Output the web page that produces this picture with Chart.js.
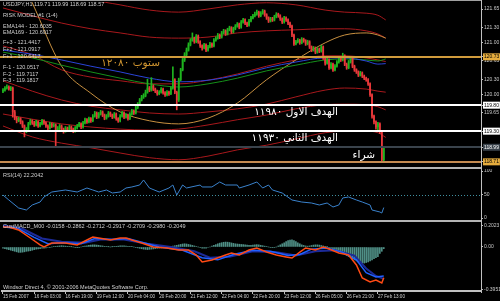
<!DOCTYPE html>
<html>
<head>
<meta charset="utf-8">
<script src="https://cdn.jsdelivr.net/npm/chart.js@4.4.1/dist/chart.umd.min.js"></script>
<style>
  html, body { margin: 0; padding: 0; background: #000; }
  #wrap { position: relative; width: 500px; height: 301px; overflow: hidden; background: #000; }
  canvas { position: absolute; left: 0; }
  .rule { position: absolute; left: 0; width: 481px; height: 2px; background: #b4b4b4; }
  .small { position: absolute; left: 3px; font: 5.5px 'Liberation Sans', Arial, sans-serif; color: #d0d0d0; white-space: nowrap; line-height: 1; }
  .ar { position: absolute; font: 10.5px 'DejaVu Sans', sans-serif; direction: rtl; white-space: nowrap; line-height: 11px; }
</style>
</head>
<body>
<div id="wrap">
  <canvas id="price" width="500" height="166" style="top:0"></canvas>
  <canvas id="rsi" width="500" height="50" style="top:169px"></canvas>
  <canvas id="macd" width="500" height="78" style="top:222px"></canvas>

  <div style="position:absolute;left:0;top:0;width:481px;height:1px;background:#a0a0a0"></div>
  <div style="position:absolute;left:481px;top:0;width:1px;height:293px;background:#c0c0c0"></div>
  <div class="rule" style="top:167px"></div>
  <div class="rule" style="top:220px"></div>

  <div class="small" style="top:2px">USDJPY,H1 119.71 119.99 118.69 118.57</div>
  <div class="small" style="top:13px">RISK MODEL #1 (1-4)</div>
  <div class="small" style="top:24px">EMA144 - 120.6035</div>
  <div class="small" style="top:30px">EMA169 - 120.6917</div>
  <div class="small" style="top:40px">F+3 - 121.4417</div>
  <div class="small" style="top:47px">F+2 - 121.0917</div>
  <div class="small" style="top:54px">F+1 - 120.6417</div>
  <div class="small" style="top:65px">F-1 - 120.0517</div>
  <div class="small" style="top:72px">F-2 - 119.7117</div>
  <div class="small" style="top:78px">F-3 - 119.1817</div>
  <div class="small" style="top:173px">RSI(14) 22.2042</div>
  <div class="small" style="top:224px">CustMACD_M00 -0.0158 -0.2862 -0.2712 -0.2917 -0.2709 -0.2980 -0.2049</div>
  <div class="small" style="top:285px">Windsor Direct 4, © 2001-2006 MetaQuotes Software Corp.</div>

  <div class="ar" style="right:340px;top:57px;color:#d09530">ستوب ١٢٠٨٠</div>
  <div class="ar" style="right:162px;top:106px;color:#fff">الهدف الاول ١١٩٨٠</div>
  <div class="ar" style="right:162px;top:132px;color:#fff">الهدف الثاني ١١٩٣٠</div>
  <div class="ar" style="right:125px;top:149px;color:#fff">شراء</div>
</div>

<script>
// USDJPY H1, bar index 0 = 15 Feb 2007
const xTickIdx = [0, 16, 32, 48, 64, 80, 96, 112, 128, 144, 160, 176, 192];
const xTickLabels = ['15 Feb 2007', '16 Feb 03:00', '16 Feb 19:00', '19 Feb 12:00', '20 Feb 04:00',
  '20 Feb 20:00', '21 Feb 12:00', '22 Feb 04:00', '22 Feb 20:00', '23 Feb 12:00',
  '26 Feb 05:00', '26 Feb 21:00', '27 Feb 13:00'];

const barOpen = [
  120.07,120.09,120.13,120.15,120.11,120.13,119.67,119.55,119.50,119.54,
  119.48,119.40,119.30,119.34,119.44,119.50,119.46,119.42,119.48,119.40,
  119.44,119.50,119.46,119.40,119.36,119.44,119.40,119.42,119.32,119.36,
  119.40,119.34,119.30,119.36,119.32,119.38,119.34,119.30,119.36,119.40,
  119.44,119.38,119.46,119.52,119.48,119.54,119.50,119.59,119.65,119.57,
  119.63,119.67,119.61,119.55,119.59,119.65,119.61,119.57,119.63,119.54,
  119.50,119.59,119.65,119.57,119.61,119.54,119.63,119.69,119.65,119.75,
  119.82,119.90,119.96,119.98,120.05,120.13,120.09,120.17,120.11,120.07,
  120.02,120.05,120.11,120.04,120.00,120.05,120.02,120.13,120.29,120.05,
  119.90,120.29,120.48,120.67,120.77,120.86,120.96,121.05,121.09,121.02,
  121.13,121.02,120.94,120.90,120.96,120.86,120.92,120.98,120.94,121.05,
  121.09,121.15,121.11,121.19,121.23,121.17,121.25,121.29,121.21,121.27,
  121.32,121.36,121.30,121.40,121.44,121.38,121.34,121.42,121.48,121.52,
  121.55,121.59,121.52,121.57,121.61,121.54,121.48,121.42,121.46,121.44,
  121.50,121.55,121.52,121.46,121.40,121.48,121.44,121.38,121.32,121.15,
  120.98,121.02,121.05,121.00,121.07,121.04,120.98,121.02,120.92,120.86,
  120.90,120.82,120.88,120.84,120.92,120.71,120.61,120.67,120.52,120.59,
  120.48,120.55,120.63,120.71,120.67,120.75,120.59,120.52,120.63,120.71,
  120.55,120.48,120.44,120.38,120.42,120.36,120.32,120.29,120.21,120.00,
  119.59,119.48,119.38,119.44,119.29,118.75];
const barHigh = [
  120.12,120.16,120.19,120.17,120.16,120.15,119.70,119.58,119.57,119.56,
  119.50,119.42,119.37,119.47,119.53,119.52,119.49,119.51,119.50,119.47,
  119.53,119.52,119.48,119.42,119.47,119.46,119.45,119.44,119.39,119.43,
  119.42,119.36,119.39,119.38,119.41,119.40,119.36,119.39,119.43,119.47,
  119.46,119.49,119.55,119.54,119.57,119.56,119.62,119.68,119.67,119.66,
  119.70,119.69,119.63,119.62,119.68,119.67,119.63,119.66,119.65,119.56,
  119.62,119.68,119.67,119.64,119.63,119.66,119.72,119.71,119.78,119.85,
  119.93,119.99,120.02,120.09,120.30,120.16,120.33,120.19,120.13,120.09,
  120.08,120.14,120.13,120.06,120.08,120.07,120.16,120.54,120.31,120.07,
  120.32,120.51,120.70,120.81,120.90,121.00,121.08,121.19,121.11,121.16,
  121.15,121.04,120.96,120.99,120.98,120.95,121.01,121.00,121.08,121.12,
  121.18,121.17,121.22,121.26,121.25,121.28,121.32,121.31,121.30,121.35,
  121.39,121.38,121.43,121.47,121.46,121.40,121.45,121.51,121.55,121.59,
  121.63,121.61,121.60,121.64,121.63,121.56,121.50,121.49,121.49,121.53,
  121.58,121.57,121.54,121.48,121.51,121.50,121.46,121.40,121.34,121.17,
  121.05,121.08,121.07,121.10,121.09,121.06,121.05,121.04,120.94,120.93,
  120.92,120.91,120.90,120.95,120.94,120.73,120.70,120.69,120.62,120.61,
  120.58,120.66,120.74,120.73,120.80,120.77,120.61,120.66,120.74,120.73,
  120.57,120.50,120.46,120.45,120.44,120.38,120.34,120.31,120.23,120.02,
  119.61,119.50,119.47,119.46,119.31,119.00];
const barLow = [
  120.04,120.07,120.11,120.09,120.08,119.57,119.52,119.46,119.48,119.44,
  119.37,119.19,119.27,119.32,119.42,119.43,119.39,119.40,119.37,119.38,
  119.42,119.43,119.37,119.33,119.34,119.37,119.38,119.00,119.29,119.33,
  119.31,119.26,119.28,119.29,119.30,119.31,119.27,119.28,119.34,119.38,
  119.35,119.36,119.44,119.45,119.46,119.47,119.48,119.57,119.54,119.55,
  119.61,119.58,119.52,119.53,119.57,119.58,119.54,119.55,119.51,119.47,
  119.48,119.57,119.54,119.55,119.51,119.52,119.61,119.62,119.63,119.73,
  119.80,119.88,119.93,119.96,120.03,120.06,120.07,120.08,120.04,119.99,
  120.00,120.03,120.01,119.97,119.98,119.99,120.00,120.11,120.02,119.71,
  119.87,120.27,120.46,120.64,120.75,120.84,120.94,121.03,120.99,121.00,
  120.99,120.91,120.86,120.88,120.83,120.84,120.90,120.91,120.92,121.03,
  121.07,121.08,121.09,121.17,121.14,121.15,121.23,121.18,121.19,121.25,
  121.30,121.27,121.28,121.38,121.35,121.31,121.32,121.40,121.46,121.50,
  121.53,121.49,121.50,121.55,121.51,121.45,121.39,121.40,121.41,121.42,
  121.48,121.49,121.43,121.37,121.38,121.41,121.35,121.29,121.12,120.95,
  120.96,121.00,120.97,120.98,121.01,120.95,120.96,120.89,120.83,120.84,
  120.79,120.80,120.81,120.82,120.68,120.57,120.59,120.49,120.50,120.45,
  120.46,120.53,120.61,120.64,120.65,120.56,120.49,120.50,120.61,120.52,
  120.45,120.41,120.35,120.36,120.33,120.29,120.26,120.18,119.97,119.55,
  119.44,119.34,119.32,119.25,118.71,118.71];
const barClose = [
  120.09,120.13,120.15,120.11,120.13,119.67,119.55,119.50,119.54,119.48,
  119.40,119.30,119.34,119.44,119.50,119.46,119.42,119.48,119.40,119.44,
  119.50,119.46,119.40,119.36,119.44,119.40,119.42,119.32,119.36,119.40,
  119.34,119.30,119.36,119.32,119.38,119.34,119.30,119.36,119.40,119.44,
  119.38,119.46,119.52,119.48,119.54,119.50,119.59,119.65,119.57,119.63,
  119.67,119.61,119.55,119.59,119.65,119.61,119.57,119.63,119.54,119.50,
  119.59,119.65,119.57,119.61,119.54,119.63,119.69,119.65,119.75,119.82,
  119.90,119.96,119.98,120.05,120.13,120.09,120.17,120.11,120.07,120.02,
  120.05,120.11,120.04,120.00,120.05,120.02,120.13,120.29,120.05,119.90,
  120.29,120.48,120.67,120.77,120.86,120.96,121.05,121.09,121.02,121.13,
  121.02,120.94,120.90,120.96,120.86,120.92,120.98,120.94,121.05,121.09,
  121.15,121.11,121.19,121.23,121.17,121.25,121.29,121.21,121.27,121.32,
  121.36,121.30,121.40,121.44,121.38,121.34,121.42,121.48,121.52,121.55,
  121.59,121.52,121.57,121.61,121.54,121.48,121.42,121.46,121.44,121.50,
  121.55,121.52,121.46,121.40,121.48,121.44,121.38,121.32,121.15,120.98,
  121.02,121.05,121.00,121.07,121.04,120.98,121.02,120.92,120.86,120.90,
  120.82,120.88,120.84,120.92,120.71,120.61,120.67,120.52,120.59,120.48,
  120.55,120.63,120.71,120.67,120.75,120.59,120.52,120.63,120.71,120.55,
  120.48,120.44,120.38,120.42,120.36,120.32,120.29,120.21,120.00,119.59,
  119.48,119.38,119.44,119.29,118.75,118.98];

// risk model curves, sampled at these bars
const curveIdx = [0, 15, 30, 45, 60, 75, 90, 105, 120, 135, 150, 165, 175, 186, 192, 196];
const fPlus3 = [122.59,122.36,122.05,121.84,121.73,121.63,121.59,121.65,121.73,121.77,121.73,121.63,121.59,121.57,121.53,121.44];
const fPlus2 = [121.67,121.52,121.38,121.27,121.19,121.11,121.09,121.11,121.19,121.23,121.25,121.27,121.27,121.23,121.17,121.09];
const fPlus1 = [120.94,120.77,120.48,120.34,120.27,120.21,120.21,120.28,120.40,120.55,120.67,120.75,120.75,120.71,120.67,120.64];
const ema144 = [120.86,120.78,120.67,120.55,120.44,120.32,120.25,120.28,120.38,120.52,120.63,120.71,120.71,120.65,120.59,120.60];
const ema169 = [120.82,120.71,120.57,120.44,120.32,120.21,120.15,120.21,120.32,120.46,120.57,120.67,120.69,120.67,120.65,120.69];
const trendCurve = [122.98,121.77,120.55,120.03,119.67,119.50,119.44,119.55,119.84,120.29,120.67,121.00,121.15,121.19,121.15,121.09];
const fMinus1 = [120.27,120.07,119.90,119.78,119.71,119.65,119.63,119.67,119.73,119.82,119.96,120.09,120.13,120.11,120.07,120.05];
const fMinus2 = [119.63,119.53,119.44,119.38,119.34,119.32,119.34,119.42,119.52,119.61,119.73,119.81,119.82,119.81,119.77,119.71];
const fMinus3 = [119.40,119.19,119.07,118.98,118.88,118.79,118.75,118.82,118.94,119.03,119.15,119.27,119.30,119.30,119.27,119.18];

// stop / targets / bid / buy
const levelValues = [120.73, 119.80, 119.30, 118.99, 118.71];
const priceTicks = [121.65, 121.30, 121.00, 120.65, 120.30, 120.00, 119.65];

const rsiIdx = [0,3,8,12,15,19,21,25,32,38,43,46,49,53,56,60,63,66,70,72,75,80,85,87,89,92,94,101,102,107,
  111,114,120,121,126,130,133,136,138,143,148,153,158,162,166,169,172,174,177,181,184,188,189,193,194,195];
const rsiVal = [48.9,38.3,21.3,17.0,27.7,34.0,44.7,55.3,59.6,55.3,63.8,59.6,55.3,59.6,53.2,55.3,63.8,66.0,70.2,80.9,
  63.8,55.3,63.8,70.2,48.9,70.2,63.8,70.2,66.0,66.0,76.6,70.2,70.2,63.8,70.2,76.6,63.8,70.2,59.6,53.2,
  38.3,34.0,31.9,27.7,31.9,23.4,27.7,42.6,44.7,38.3,34.0,27.7,17.0,12.8,10.6,22.2];
const rsiTicks = [100, 50, 0];

const macdIdx = [0,3,8,14,19,21,25,32,38,43,46,49,55,60,63,66,71,77,84,90,95,99,102,107,114,117,121,126,130,135,
  140,145,148,152,155,160,164,167,172,177,181,184,188,191,194,195];
const macdMain = [0.187,0.187,0.159,0.084,0.019,0.000,0.037,0.037,0.019,0.065,0.093,0.084,0.065,0.084,0.084,0.065,
  0.037,0.000,-0.009,-0.028,-0.028,-0.075,-0.140,-0.121,-0.075,-0.056,-0.075,-0.028,-0.009,-0.047,
  -0.075,-0.093,-0.103,-0.047,-0.009,-0.028,0.000,-0.019,-0.056,-0.075,-0.168,-0.289,-0.327,-0.308,-0.336,-0.286];
const macdBlueIdx = [0,8,16,23,30,40,47,56,64,72,80,92,102,110,118,128,137,146,152,158,166,174,181,186,191,195];
const macdBlue = [0.19,0.17,0.09,0.03,0.04,0.03,0.08,0.07,0.08,0.04,0.00,-0.03,-0.10,-0.12,-0.07,-0.03,-0.04,-0.08,
  -0.07,-0.02,-0.01,-0.05,-0.12,-0.24,-0.28,-0.271];
const macdNavyIdx = [0,10,20,30,42,50,62,74,86,98,106,116,128,140,150,160,170,180,186,191,195];
const macdNavy = [0.20,0.17,0.08,0.05,0.04,0.07,0.07,0.03,0.00,-0.04,-0.10,-0.09,-0.04,-0.05,-0.08,-0.04,-0.03,
  -0.08,-0.20,-0.27,-0.298];
const macdHist = [
  -0.01,-0.015,-0.02,-0.025,
  -0.03,-0.035,-0.04,-0.045,-0.05,-0.05,-0.048,-0.045,
  -0.04,-0.038,-0.035,-0.03,-0.025,-0.02,-0.018,-0.015,
  -0.012,-0.01,-0.008,-0.005,-0.003,0.0,0.004,0.006,
  0.008,0.01,0.012,0.01,0.008,0.006,0.004,0.002,
  0.0,-0.004,-0.006,-0.004,0.0,0.004,0.008,0.012,
  0.015,0.018,0.02,0.02,0.018,0.016,0.012,0.01,
  0.006,0.004,0.002,0.0,0.002,0.004,0.006,0.008,
  0.01,0.012,0.01,0.008,0.006,0.004,0.002,0.0,
  -0.004,-0.008,-0.012,-0.016,-0.02,-0.022,-0.024,-0.022,
  -0.02,-0.018,-0.015,-0.012,-0.01,-0.008,-0.006,-0.004,
  -0.002,0.0,0.004,0.008,0.012,0.016,0.02,0.024,
  0.028,0.03,0.028,0.024,0.02,0.015,0.01,0.005,
  0.0,-0.005,-0.01,-0.012,-0.01,-0.005,0.0,0.008,
  0.015,0.022,0.03,0.036,0.04,0.044,0.046,0.045,
  0.042,0.038,0.034,0.03,0.028,0.026,0.024,0.022,
  0.02,0.018,0.016,0.016,0.018,0.02,0.022,0.02,
  0.016,0.012,0.008,0.004,0.0,-0.004,-0.006,-0.004,
  0.0,0.01,0.02,0.03,0.04,0.05,0.06,0.065,
  0.068,0.06,0.05,0.04,0.03,0.02,0.015,0.01,
  0.008,0.01,0.014,0.018,0.02,0.02,0.018,0.014,
  0.01,0.006,0.002,-0.004,-0.01,-0.016,-0.022,-0.03,
  -0.04,-0.05,-0.06,-0.07,-0.08,-0.09,-0.1,-0.11,
  -0.12,-0.13,-0.14,-0.145,-0.15,-0.15,-0.145,-0.14,
  -0.13,-0.12,-0.11,-0.1,-0.09,-0.06,-0.04,-0.016];
const macdTicks = [0.2023, 0, -0.3951];
const macdTickLabels = ['0.2023', '0.00', '-0.3951'];

Chart.defaults.font.family = "'Liberation Sans Narrow', 'Liberation Sans', Arial, sans-serif";
Chart.defaults.animation = false;

const UP = '#1fb41f';
const DOWN = '#e8383a';
const AXIS = '#c0c0c0';
const levelLine = ['#d09b3c', '#ffffff', '#ffffff', '#3a434c', '#c48a50'];
const levelBox = ['#e6ad3e', '#ffffff', '#ffffff', '#3a434c', '#e6ad3e'];
const levelText = ['#000', '#000', '#000', '#fff', '#000'];

const pts = (idx, vals) => idx.map((x, k) => ({ x: x, y: vals[k] }));

// same horizontal mapping in all three panes, no bar offset
function xScale(show) {
  const s = { type: 'linear', min: -0.5, max: 244.8, display: show, offset: false,
              grid: { offset: false, drawOnChartArea: false } };
  if (show) {
    Object.assign(s, {
      afterBuildTicks: a => { a.ticks = xTickIdx.map(v => ({ value: v })); },
      afterFit: a => { a.height = 9; a.paddingLeft = 0; a.paddingRight = 0; },
      grid: { offset: false, drawOnChartArea: false, tickLength: 3, color: AXIS },
      border: { display: true, color: AXIS, width: 2 },
      ticks: { autoSkip: false, maxRotation: 0, align: 'start', padding: 0, color: '#d0d0d0',
               font: { size: 4.6 }, callback: (v, i) => xTickLabels[i] }
    });
  }
  return s;
}

function yScale(extra) {
  return Object.assign({
    position: 'right',
    afterFit: a => { a.width = 19; a.paddingTop = 0; a.paddingBottom = 0; },
    grid: { drawOnChartArea: false, tickLength: 2, color: AXIS },
    border: { display: true, color: AXIS }
  }, extra);
}

const baseOpts = (pad) => ({
  responsive: false, devicePixelRatio: 1, animation: false,
  layout: { padding: pad },
  plugins: { legend: { display: false }, tooltip: { enabled: false } }
});

function curve(vals, color, order) {
  return { type: 'line', data: pts(curveIdx, vals), borderColor: color, borderWidth: 1,
           pointRadius: 0, cubicInterpolationMode: 'monotone', order: order };
}

const levelPlugin = {
  id: 'levels',
  afterDatasetsDraw(chart) {
    const { ctx, chartArea, scales } = chart;
    ctx.save();
    levelValues.forEach((v, k) => {
      const py = Math.round(scales.y.getPixelForValue(v));
      ctx.strokeStyle = levelLine[k];
      ctx.lineWidth = 2;
      ctx.beginPath();
      ctx.moveTo(0, py);
      ctx.lineTo(chartArea.right, py);
      ctx.stroke();
    });
    ctx.restore();
  }
};

const candleColor = c => barClose[c.dataIndex] >= barOpen[c.dataIndex] ? UP : DOWN;

new Chart(document.getElementById('price'), {
  type: 'bar',
  data: {
    datasets: [
      { data: barOpen.map((o, i) => ({ x: i, y: [o, barClose[i]] })), backgroundColor: candleColor,
        barThickness: 1, minBarLength: 1, grouped: false, order: 0 },
      { data: barHigh.map((h, i) => ({ x: i, y: [barLow[i], h] })), backgroundColor: candleColor,
        barThickness: 1, grouped: false, order: 1 },
      curve(ema144, '#2a44d8', 2),
      curve(ema169, '#15901a', 3),
      curve(trendCurve, '#c89040', 4),
      curve(fPlus3, '#a8181c', 5),
      curve(fPlus2, '#a8181c', 5),
      curve(fPlus1, '#a8181c', 6),
      curve(fMinus1, '#a8181c', 5),
      curve(fMinus2, '#a8181c', 5),
      curve(fMinus3, '#a8181c', 5)
    ]
  },
  options: Object.assign(baseOpts({ left: 2, top: 2, right: 0, bottom: 0 }), {
    scales: {
      x: xScale(false),
      y: yScale({
        min: 118.63, max: 121.785,
        afterBuildTicks: a => { a.ticks = priceTicks.concat(levelValues).map(v => ({ value: v })); },
        ticks: {
          autoSkip: false, padding: 1, font: { size: 5 },
          callback: v => v.toFixed(2),
          color: c => { const k = levelValues.indexOf(c.tick.value); return k < 0 ? '#c8c8c8' : levelText[k]; },
          showLabelBackdrop: c => levelValues.indexOf(c.tick.value) >= 0,
          backdropColor: c => { const k = levelValues.indexOf(c.tick.value); return k < 0 ? 'rgba(0,0,0,0)' : levelBox[k]; },
          backdropPadding: { x: 1, y: 0.5 }
        }
      })
    }
  }),
  plugins: [levelPlugin]
});

const rsiLevel = {
  id: 'rsiLevel',
  beforeDatasetsDraw(chart) {
    const { ctx, chartArea, scales } = chart;
    const py = Math.round(scales.y.getPixelForValue(50)) + 0.5;
    ctx.save();
    ctx.strokeStyle = '#3f8f9f';
    ctx.setLineDash([1, 2]);
    ctx.beginPath();
    ctx.moveTo(chartArea.left, py);
    ctx.lineTo(chartArea.right, py);
    ctx.stroke();
    ctx.restore();
  }
};

new Chart(document.getElementById('rsi'), {
  type: 'line',
  data: { datasets: [{ data: pts(rsiIdx, rsiVal), borderColor: '#3a82cc', borderWidth: 1, pointRadius: 0 }] },
  options: Object.assign(baseOpts({ left: 2, top: 2, right: 0, bottom: 1 }), {
    scales: {
      x: xScale(false),
      y: yScale({
        min: 0, max: 100,
        afterBuildTicks: a => { a.ticks = rsiTicks.map(v => ({ value: v })); },
        ticks: { autoSkip: false, padding: 1, font: { size: 5 }, color: '#c8c8c8', callback: v => String(v) }
      })
    }
  }),
  plugins: [rsiLevel]
});

new Chart(document.getElementById('macd'), {
  type: 'bar',
  data: {
    datasets: [
      { type: 'line', data: pts(macdIdx, macdMain), borderColor: '#ff4a14', borderWidth: 1.5, pointRadius: 0, order: 0 },
      { type: 'line', data: pts(macdBlueIdx, macdBlue), borderColor: '#2060ff', borderWidth: 1.5, pointRadius: 0, order: 1 },
      { type: 'line', data: pts(macdNavyIdx, macdNavy), borderColor: '#1c2a98', borderWidth: 2, pointRadius: 0, order: 2 },
      { data: macdHist.map((h, i) => ({ x: i, y: h })), backgroundColor: '#4f8f86', barThickness: 1, order: 3 }
    ]
  },
  options: Object.assign(baseOpts({ left: 2, top: 0, right: 0, bottom: 0 }), {
    scales: {
      x: xScale(true),
      y: yScale({
        min: -0.4108, max: 0.2334,
        afterBuildTicks: a => { a.ticks = macdTicks.map(v => ({ value: v })); },
        ticks: { autoSkip: false, padding: 1, font: { size: 5 }, color: '#c8c8c8',
                 callback: (v, i) => macdTickLabels[i] }
      })
    }
  })
});
</script>
</body>
</html>
